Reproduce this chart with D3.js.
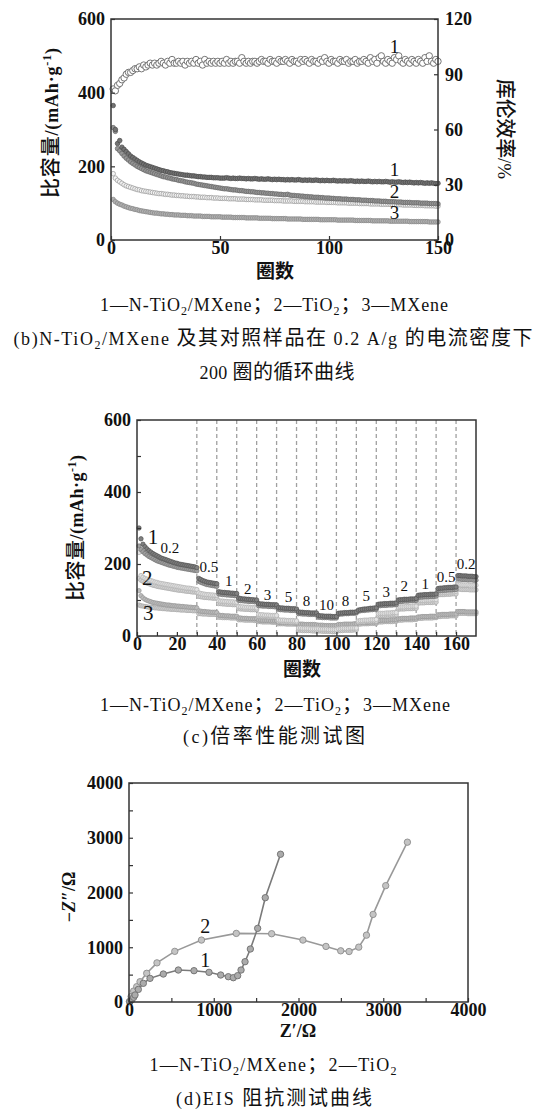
<!DOCTYPE html>
<html>
<head>
<meta charset="utf-8">
<script src="https://cdn.jsdelivr.net/npm/d3@7"></script>
<style>
  body { margin: 0; background: #fff; }
  svg text { font-family: "Liberation Serif", "DejaVu Serif", serif; fill: #111; }
  .cjk { font-family: "Noto Sans CJK SC", sans-serif; }
</style>
</head>
<body>
<svg id="chart" width="542" height="1111"></svg>
<script>
// ---------- (b) cycling at 0.2 A/g ----------
var cyclesB = d3.range(1, 151);
var ceB = [
  82, 81, 84, 85, 87, 88, 90, 91, 91, 92,
  93, 93, 94, 93, 95, 94, 95, 96, 95, 96,
  95, 96, 97, 96, 95, 97, 96, 98, 96, 96,
  97, 96, 97, 95, 97, 96, 97, 96, 98, 96,
  97, 95, 98, 96, 97, 96, 97, 96, 97, 96,
  97, 96, 98, 96, 97, 96, 97, 97, 96, 99,
  97, 96, 97, 96, 97, 97, 96, 97, 98, 97,
  97, 96, 98, 97, 97, 96, 98, 97, 97, 98,
  97, 96, 98, 97, 97, 96, 98, 97, 98, 97,
  96, 98, 97, 97, 96, 98, 97, 99, 97, 96,
  98, 97, 97, 96, 98, 97, 97, 98, 96, 97,
  97, 98, 96, 97, 97, 98, 97, 96, 99, 97,
  98, 96, 99, 100, 97, 96, 98, 97, 96, 99,
  98, 100, 97, 96, 98, 97, 96, 98, 97, 96,
  98, 97, 96, 99, 97, 100, 97, 96, 98, 97
];
var cap1B = [
  365, 300, 262, 270, 252, 246, 240, 234, 228, 224,
  220, 216, 212, 209, 206, 203, 201, 199, 197, 195,
  193, 191, 189, 188, 186, 185, 183, 182, 181, 180,
  179, 178, 177, 176, 176, 175, 174, 174, 173, 172,
  172, 171, 171, 170, 170, 170, 169, 169, 169, 168,
  168, 168, 169, 168, 167, 168, 167, 167, 168, 167,
  167, 166, 167, 166, 166, 167, 166, 165, 166, 165,
  165, 166, 165, 164, 165, 164, 165, 164, 164, 163,
  164, 163, 164, 163, 163, 164, 163, 162, 163, 162,
  163, 162, 162, 163, 162, 161, 162, 161, 162, 161,
  161, 162, 161, 160, 161, 160, 161, 160, 160, 161,
  160, 159, 160, 159, 160, 159, 159, 160, 159, 158,
  159, 158, 159, 158, 158, 159, 158, 157, 158, 157,
  157, 158, 157, 156, 157, 156, 157, 156, 155, 156,
  155, 156, 155, 154, 155, 154, 155, 154, 153, 154
];
var cap2B = [
  305, 295, 248, 242, 235, 228, 222, 217, 212, 208,
  204, 200, 197, 194, 191, 188, 186, 184, 182, 180,
  178, 176, 174, 172, 171, 169, 168, 166, 165, 164,
  162, 161, 160, 158, 157, 156, 155, 154, 152, 151,
  150, 149, 148, 147, 146, 145, 144, 143, 142, 141,
  140, 139, 139, 138, 137, 136, 136, 135, 134, 134,
  133, 132, 132, 131, 131, 130, 129, 129, 128, 128,
  127, 127, 126, 126, 125, 125, 124, 124, 123, 123,
  124, 122, 121, 121, 120, 120, 119, 119, 118, 118,
  117, 117, 116, 116, 116, 115, 115, 114, 114, 114,
  113, 113, 112, 112, 112, 111, 111, 111, 110, 110,
  110, 109, 109, 109, 108, 108, 108, 107, 107, 107,
  106, 106, 106, 105, 105, 105, 104, 104, 104, 104,
  103, 103, 103, 102, 102, 102, 102, 101, 101, 101,
  101, 100, 100, 100, 100, 99, 99, 99, 99, 98
];
var cap2bB = [
  180, 168, 162, 158, 154, 150, 147, 145, 143, 141,
  139, 137, 136, 134, 133, 132, 131, 130, 129, 128,
  127, 126, 126, 125, 124, 124, 123, 122, 122, 121,
  121, 120, 120, 119, 119, 118, 118, 118, 117, 117,
  116, 116, 116, 115, 115, 115, 114, 114, 114, 113,
  113, 113, 113, 112, 112, 112, 112, 111, 111, 111,
  111, 110, 110, 110, 110, 109, 109, 109, 109, 108,
  108, 108, 108, 108, 107, 107, 107, 107, 106, 106,
  106, 106, 106, 105, 105, 105, 105, 105, 104, 104,
  104, 104, 104, 103, 103, 103, 103, 103, 102, 102,
  102, 102, 102, 101, 101, 101, 101, 101, 100, 100,
  100, 100, 100, 99, 99, 99, 99, 99, 98, 98,
  98, 98, 98, 97, 97, 97, 97, 97, 96, 96,
  96, 96, 96, 95, 95, 95, 95, 95, 94, 94,
  94, 94, 94, 93, 93, 93, 93, 93, 92, 92
];
var cap3B = [
  110, 104, 100, 97, 95, 92, 90, 88, 86, 85,
  83, 82, 80, 79, 78, 77, 76, 75, 74, 73,
  73, 72, 71, 71, 70, 70, 69, 69, 68, 68,
  68, 67, 67, 67, 66, 66, 66, 65, 65, 65,
  65, 64, 64, 64, 64, 63, 63, 63, 63, 63,
  62, 62, 62, 62, 62, 61, 61, 61, 61, 61,
  61, 60, 60, 60, 60, 60, 60, 59, 59, 59,
  59, 59, 59, 58, 58, 58, 58, 58, 58, 58,
  57, 57, 57, 57, 57, 57, 57, 56, 56, 56,
  56, 56, 56, 56, 56, 55, 55, 55, 55, 55,
  55, 55, 55, 54, 54, 54, 54, 54, 54, 54,
  54, 53, 53, 53, 53, 53, 53, 53, 53, 52,
  52, 52, 52, 52, 52, 52, 52, 51, 51, 51,
  51, 51, 51, 51, 51, 51, 50, 50, 50, 50,
  50, 50, 50, 50, 50, 49, 49, 49, 49, 49
];

// ---------- (c) rate test ----------
var cyclesC = d3.range(1, 171);
var rateBounds = [30, 40, 50, 60, 70, 80, 90, 100, 110, 120, 130, 140, 150, 160];
var rateText = ["0.2", "0.5", "1", "2", "3", "5", "8", "10", "8", "5", "3", "2", "1", "0.5", "0.2"];
var rateAtCycle = [16.5, 36, 46, 55.5, 65.5, 76, 85, 95, 104.5, 115, 125, 134, 144.5, 155, 165];
var rateAtCap = [244, 193, 153, 132, 114, 109, 98, 86, 98, 111, 123, 139, 146, 165, 202];
var s1aC = [
  300, 270, 255, 248, 242, 237, 233, 229, 226, 223, 220, 217, 215, 213, 211,
  209, 207, 205, 203, 202, 200, 199, 198, 197, 196, 195, 194, 193, 192, 190,
  160, 157, 154, 152, 150, 149, 148, 147, 146, 145,
  123, 122, 121, 121, 120, 120, 119, 119, 118, 118,
  105, 104, 103, 103, 102, 102, 101, 101, 100, 100,
  90, 89, 89, 88, 88, 88, 87, 87, 87, 86,
  79, 78, 78, 77, 77, 77, 76, 76, 76, 75,
  67, 66, 66, 65, 65, 65, 64, 64, 64, 64,
  57, 56, 56, 55, 55, 55, 55, 54, 54, 54,
  63, 64, 64, 65, 65, 65, 66, 66, 66, 67,
  72, 73, 74, 75, 75, 76, 77, 77, 78, 78,
  88, 89, 89, 90, 90, 90, 91, 91, 91, 92,
  100, 101, 101, 102, 102, 102, 103, 103, 103, 104,
  113, 114, 114, 115, 115, 115, 116, 116, 116, 117,
  132, 133, 133, 134, 134, 135, 135, 135, 136, 136,
  168, 168, 167, 167, 167, 166, 166, 166, 165, 165
];
var s1bC = [
  250, 240, 234, 229, 225, 221, 218, 215, 212, 209, 207, 205, 203, 201, 199,
  197, 196, 194, 193, 191, 190, 189, 188, 187, 186, 185, 184, 183, 182, 181,
  152, 149, 147, 145, 143, 142, 141, 140, 139, 138,
  117, 116, 115, 115, 114, 114, 113, 113, 112, 112,
  99, 98, 98, 97, 97, 96, 96, 96, 95, 95,
  84, 84, 83, 83, 83, 82, 82, 82, 81, 81,
  74, 73, 73, 72, 72, 72, 71, 71, 71, 71,
  62, 62, 61, 61, 61, 60, 60, 60, 60, 59,
  52, 52, 51, 51, 51, 51, 50, 50, 50, 50,
  60, 61, 61, 62, 62, 62, 63, 63, 63, 64,
  69, 70, 71, 71, 72, 72, 73, 73, 74, 74,
  84, 84, 85, 85, 85, 86, 86, 86, 87, 87,
  95, 96, 96, 97, 97, 97, 98, 98, 98, 99,
  107, 108, 108, 109, 109, 109, 110, 110, 110, 111,
  125, 126, 126, 127, 127, 128, 128, 128, 129, 129,
  158, 158, 157, 157, 157, 156, 156, 156, 155, 155
];
var s2aC = [
  232, 168, 163, 160, 158, 156, 154, 152, 150, 149, 147, 146, 145, 144, 143,
  142, 141, 140, 139, 138, 137, 136, 135, 134, 133, 133, 132, 131, 130, 129,
  120, 118, 117, 116, 115, 115, 114, 114, 113, 113,
  98, 97, 97, 96, 96, 95, 95, 95, 94, 94,
  82, 81, 81, 80, 80, 80, 79, 79, 79, 78,
  60, 59, 59, 58, 58, 58, 57, 57, 57, 57,
  45, 44, 44, 44, 43, 43, 43, 43, 42, 42,
  22, 22, 21, 21, 21, 21, 20, 20, 20, 20,
  20, 19, 19, 19, 19, 18, 18, 18, 18, 18,
  20, 20, 21, 21, 21, 21, 22, 22, 22, 22,
  42, 43, 43, 44, 44, 44, 45, 45, 45, 46,
  62, 63, 63, 63, 64, 64, 64, 65, 65, 65,
  80, 81, 81, 81, 82, 82, 82, 83, 83, 83,
  98, 99, 99, 99, 100, 100, 100, 101, 101, 101,
  120, 121, 121, 122, 122, 122, 123, 123, 123, 124,
  143, 143, 142, 142, 142, 142, 141, 141, 141, 141
];
var s2bC = [
  160, 155, 152, 149, 147, 145, 143, 141, 140, 138, 137, 136, 135, 134, 133,
  132, 131, 130, 129, 128, 127, 127, 126, 125, 124, 124, 123, 122, 122, 121,
  110, 109, 108, 107, 107, 106, 106, 105, 105, 105,
  90, 90, 89, 89, 88, 88, 88, 87, 87, 87,
  76, 75, 75, 74, 74, 74, 73, 73, 73, 73,
  55, 55, 54, 54, 54, 53, 53, 53, 53, 52,
  40, 40, 39, 39, 39, 39, 38, 38, 38, 38,
  16, 16, 15, 15, 15, 15, 15, 14, 14, 14,
  14, 14, 13, 13, 13, 13, 13, 12, 12, 12,
  15, 15, 15, 16, 16, 16, 16, 16, 17, 17,
  38, 39, 39, 39, 40, 40, 40, 41, 41, 41,
  56, 57, 57, 57, 58, 58, 58, 58, 59, 59,
  74, 75, 75, 75, 76, 76, 76, 76, 77, 77,
  91, 92, 92, 92, 93, 93, 93, 93, 94, 94,
  114, 115, 115, 115, 116, 116, 116, 117, 117, 117,
  130, 130, 129, 129, 129, 129, 128, 128, 128, 128
];
var s3aC = [
  126, 112, 106, 102, 99, 97, 95, 93, 92, 91, 90, 89, 88, 87, 86,
  86, 85, 84, 84, 83, 83, 82, 82, 81, 81, 80, 80, 79, 79, 78,
  70, 69, 68, 68, 67, 67, 66, 66, 66, 65,
  58, 57, 57, 56, 56, 56, 55, 55, 55, 55,
  50, 50, 49, 49, 49, 48, 48, 48, 48, 48,
  44, 44, 43, 43, 43, 43, 42, 42, 42, 42,
  38, 38, 38, 37, 37, 37, 37, 37, 36, 36,
  33, 33, 33, 32, 32, 32, 32, 32, 32, 31,
  30, 30, 30, 29, 29, 29, 29, 29, 29, 29,
  32, 32, 32, 33, 33, 33, 33, 33, 34, 34,
  37, 37, 38, 38, 38, 38, 39, 39, 39, 39,
  43, 43, 44, 44, 44, 44, 45, 45, 45, 45,
  48, 48, 49, 49, 49, 49, 50, 50, 50, 50,
  53, 53, 54, 54, 54, 54, 55, 55, 55, 55,
  59, 59, 60, 60, 60, 60, 61, 61, 61, 61,
  68, 68, 68, 68, 67, 67, 67, 67, 67, 67
];
var s3bC = [
  86, 84, 83, 82, 81, 80, 80, 79, 78, 78, 77, 77, 76, 76, 75,
  75, 74, 74, 74, 73, 73, 72, 72, 72, 71, 71, 71, 70, 70, 70,
  62, 62, 61, 61, 61, 60, 60, 60, 60, 59,
  52, 52, 51, 51, 51, 51, 50, 50, 50, 50,
  45, 45, 45, 44, 44, 44, 44, 44, 43, 43,
  40, 40, 39, 39, 39, 39, 39, 38, 38, 38,
  34, 34, 34, 34, 33, 33, 33, 33, 33, 33,
  29, 29, 29, 29, 28, 28, 28, 28, 28, 28,
  26, 26, 26, 26, 25, 25, 25, 25, 25, 25,
  28, 28, 29, 29, 29, 29, 29, 30, 30, 30,
  33, 33, 34, 34, 34, 34, 35, 35, 35, 35,
  39, 39, 39, 40, 40, 40, 40, 40, 41, 41,
  44, 44, 44, 45, 45, 45, 45, 45, 46, 46,
  49, 49, 49, 50, 50, 50, 50, 50, 51, 51,
  54, 54, 55, 55, 55, 55, 56, 56, 56, 56,
  63, 63, 63, 63, 63, 62, 62, 62, 62, 62
];

// ---------- (d) EIS ----------
var eis1X = [10, 31, 55, 71, 110, 169, 248, 405, 582, 767, 944, 1082, 1172, 1231, 1282, 1322, 1369, 1432, 1518, 1608, 1788];
var eis1Y = [5, 37, 85, 128, 230, 341, 432, 511, 584, 572, 542, 493, 462, 444, 481, 584, 736, 968, 1345, 1905, 2699];
var eis2X = [5, 25, 55, 91, 130, 209, 330, 540, 855, 1266, 1683, 2052, 2324, 2498, 2597, 2711, 2802, 2880, 3029, 3285];
var eis2Y = [10, 100, 200, 280, 370, 524, 715, 925, 1131, 1253, 1247, 1131, 1015, 935, 922, 1002, 1221, 1600, 2125, 2919];

var svg = d3.select("#chart");
svg.append("rect").attr("width", 542).attr("height", 1111).attr("fill", "#fff");

var tickFont = "bold 18px 'Liberation Serif', serif";

// axis helper: ticks point inward, frame drawn as a rect
function styleAxis(g) {
  g.select(".domain").remove();
  g.selectAll(".tick line").attr("stroke", "#333").attr("stroke-width", 1.2);
  g.selectAll(".tick text").style("font", tickFont).attr("fill", "#111");
}

function frame(x, y) {
  svg.append("rect")
    .attr("x", x.range()[0]).attr("y", y.range()[1])
    .attr("width", x.range()[1] - x.range()[0])
    .attr("height", y.range()[0] - y.range()[1])
    .attr("fill", "none").attr("stroke", "#333").attr("stroke-width", 1.5);
}

function bottomAxis(x, y, major, minor) {
  if (minor) {
    svg.append("g").attr("transform", `translate(0,${y.range()[0]})`)
      .call(d3.axisBottom(x).tickValues(minor).tickSize(-4).tickFormat(""))
      .call(styleAxis);
  }
  svg.append("g").attr("transform", `translate(0,${y.range()[0]})`)
    .call(d3.axisBottom(x).tickValues(major).tickSize(-4).tickPadding(1).tickFormat(d3.format("d")))
    .call(styleAxis);
}

function leftAxis(x, y, major, minor) {
  if (minor) {
    svg.append("g").attr("transform", `translate(${x.range()[0]},0)`)
      .call(d3.axisLeft(y).tickValues(minor).tickSize(-4).tickFormat(""))
      .call(styleAxis);
  }
  svg.append("g").attr("transform", `translate(${x.range()[0]},0)`)
    .call(d3.axisLeft(y).tickValues(major).tickSize(-4).tickPadding(6).tickFormat(d3.format("d")))
    .call(styleAxis);
}

function dots(data, x, y, r, fill, stroke, sw) {
  svg.append("g").selectAll("circle").data(data).join("circle")
    .attr("cx", function(d) { return x(d[0]); })
    .attr("cy", function(d) { return y(d[1]); })
    .attr("r", r)
    .attr("fill", fill).attr("stroke", stroke).attr("stroke-width", sw);
}

function pairs(xs, ys) {
  return xs.map(function(v, i) { return [v, ys[i]]; });
}

// text built from pieces: [text, kind] kind: "cjk" | "sub" | "sup" | "it" | undefined
function richText(x, y, parts, opt) {
  var size = opt.size || 18;
  var t = svg.append("text").attr("x", x).attr("y", y)
    .attr("text-anchor", "middle")
    .style("font-size", size + "px")
    .style("font-weight", opt.bold ? "bold" : "normal");
  if (opt.rotate) t.attr("transform", `rotate(${opt.rotate},${x},${y})`);
  if (opt.len) t.attr("textLength", opt.len).attr("lengthAdjust", "spacing");
  var shift = 0;
  parts.forEach(function(p) {
    var s = t.append("tspan").text(p[0]);
    var want = p[1] === "sub" ? 4 : (p[1] === "sup" ? -7 : 0);
    if (want !== shift) { s.attr("dy", want - shift); shift = want; }
    if (p[1] === "cjk") {
      s.attr("class", "cjk")
        .style("font-size", (opt.cjkSize || size) + "px")
        .style("font-weight", opt.cjkWeight || 400);
    }
    if (p[1] === "sub" || p[1] === "sup") s.style("font-size", Math.round(size * 0.65) + "px");
    if (p[1] === "it") s.style("font-style", "italic");
  });
  return t;
}

function label(x, y, txt, size) {
  svg.append("text").attr("x", x).attr("y", y)
    .attr("text-anchor", "middle").attr("dy", "0.35em")
    .style("font-size", size + "px").text(txt);
}

function cap(x, y, parts, len) {
  return richText(x, y, parts, {size: 18, cjkSize: 20, len: len});
}

// ================= (b) =================
var xB = d3.scaleLinear().domain([0, 150]).range([111, 438]);
var yB = d3.scaleLinear().domain([0, 600]).range([240, 19]);
var yB2 = d3.scaleLinear().domain([0, 120]).range([240, 19]);

dots(pairs(cyclesB, cap3B), xB, yB, 2.3, "#b0b0b0", "#858585", 0.7);
dots(pairs(cyclesB, cap2bB), xB, yB, 2.3, "#f4f4f4", "#a0a0a0", 0.8);
dots(pairs(cyclesB, cap2B), xB, yB, 2.3, "#959595", "#666", 0.7);
dots(pairs(cyclesB, cap1B), xB, yB, 2.3, "#737373", "#4a4a4a", 0.7);
dots(pairs(cyclesB, ceB), xB, yB2, 3.2, "#fff", "#666", 0.9);

bottomAxis(xB, yB, [0, 50, 100, 150]);
leftAxis(xB, yB, [0, 200, 400, 600]);
svg.append("g").attr("transform", `translate(${xB.range()[1]},0)`)
  .call(d3.axisRight(yB2).tickValues([0, 30, 60, 90, 120]).tickSize(-4).tickPadding(7).tickFormat(d3.format("d")))
  .call(styleAxis);
frame(xB, yB);

label(xB(130), yB(525), "1", 19);
label(xB(130), yB(193), "1", 19);
label(xB(130), yB(133), "2", 19);
label(xB(130), yB(76), "3", 19);

richText(58, 123, [["比容量", "cjk"], ["/(mAh·g"], ["-1", "sup"], [")"]],
  {rotate: -90, size: 18, bold: true, cjkSize: 20, cjkWeight: 500, len: 150});
richText(498, 129, [["库伦效率", "cjk"], ["/%"]], {rotate: 90, size: 19, cjkSize: 20, cjkWeight: 500, len: 100});
richText(275, 278, [["圈数", "cjk"]], {size: 19, cjkSize: 19, cjkWeight: 700});

cap(274, 311, [["1—N-TiO"], ["2", "sub"], ["/MXene"], ["；", "cjk"], ["2—TiO"], ["2", "sub"], ["；", "cjk"], ["3—MXene"]], 348);
cap(273, 345, [["(b)N-TiO"], ["2", "sub"], ["/MXene "], ["及其对照样品在", "cjk"], [" 0.2 A/g "], ["的电流密度下", "cjk"]], 519);
cap(277, 379, [["200 "], ["圈的循环曲线", "cjk"]], 155);

// ================= (c) =================
var xC = d3.scaleLinear().domain([0, 170]).range([137, 476]);
var yC = d3.scaleLinear().domain([0, 600]).range([636, 420]);

svg.append("g").selectAll("line").data(rateBounds).join("line")
  .attr("x1", function(d) { return xC(d); }).attr("x2", function(d) { return xC(d); })
  .attr("y1", yC(600)).attr("y2", yC(0))
  .attr("stroke", "#a0a0a0").attr("stroke-width", 1.3).attr("stroke-dasharray", "4,3");

dots(pairs(cyclesC, s3bC), xC, yC, 2.2, "#d0d0d0", "#a5a5a5", 0.7);
dots(pairs(cyclesC, s3aC), xC, yC, 2.2, "#bcbcbc", "#959595", 0.7);
dots(pairs(cyclesC, s2bC), xC, yC, 2.2, "#d6d6d6", "#a8a8a8", 0.7);
dots(pairs(cyclesC, s2aC), xC, yC, 2.2, "#e2e2e2", "#b0b0b0", 0.7);
dots(pairs(cyclesC, s1bC), xC, yC, 2.2, "#a0a0a0", "#737373", 0.7);
dots(pairs(cyclesC, s1aC), xC, yC, 2.2, "#808080", "#525252", 0.7);

bottomAxis(xC, yC, d3.range(0, 161, 20), d3.range(10, 170, 20));
leftAxis(xC, yC, [0, 200, 400, 600], [100, 300, 500]);
frame(xC, yC);

rateText.forEach(function(t, i) {
  label(xC(rateAtCycle[i]), yC(rateAtCap[i]), t, 15);
});
label(xC(8), yC(276), "1", 21);
label(xC(5.2), yC(163), "2", 21);
label(xC(5.7), yC(65), "3", 21);

richText(83, 528, [["比容量", "cjk"], ["/(mAh·g"], ["-1", "sup"], [")"]],
  {rotate: -90, size: 18, bold: true, cjkSize: 20, cjkWeight: 500, len: 146});
richText(302, 676, [["圈数", "cjk"]], {size: 19, cjkSize: 19, cjkWeight: 700});
cap(275, 711, [["1—N-TiO"], ["2", "sub"], ["/MXene"], ["；", "cjk"], ["2—TiO"], ["2", "sub"], ["；", "cjk"], ["3—MXene"]], 350);
cap(274, 743, [["(c)"], ["倍率性能测试图", "cjk"]], 182);

// ================= (d) =================
var xD = d3.scaleLinear().domain([0, 4000]).range([129, 468]);
var yD = d3.scaleLinear().domain([0, 4000]).range([1002, 783]);

var lineD = d3.line()
  .x(function(d) { return xD(d[0]); })
  .y(function(d) { return yD(d[1]); });

svg.append("path").datum(pairs(eis2X, eis2Y))
  .attr("fill", "none").attr("stroke", "#999").attr("stroke-width", 1.6).attr("d", lineD);
dots(pairs(eis2X, eis2Y), xD, yD, 3.2, "#c4c4c4", "#8c8c8c", 0.9);
svg.append("path").datum(pairs(eis1X, eis1Y))
  .attr("fill", "none").attr("stroke", "#7a7a7a").attr("stroke-width", 1.6).attr("d", lineD);
dots(pairs(eis1X, eis1Y), xD, yD, 3.2, "#ababab", "#6e6e6e", 0.9);

bottomAxis(xD, yD, [0, 1000, 2000, 3000, 4000], [500, 1500, 2500, 3500]);
leftAxis(xD, yD, [0, 1000, 2000, 3000, 4000], [500, 1500, 2500, 3500]);
frame(xD, yD);

label(xD(900), yD(1380), "2", 20);
label(xD(900), yD(760), "1", 20);

richText(75, 897, [["−"], ["Z", "it"], ["″/Ω"]], {rotate: -90, size: 18, bold: true});
richText(298, 1037, [["Z′/Ω"]], {size: 18, bold: true});
cap(273, 1071, [["1—N-TiO"], ["2", "sub"], ["/MXene"], ["；", "cjk"], ["2—TiO"], ["2", "sub"]], 247);
cap(274, 1105, [["(d)EIS "], ["阻抗测试曲线", "cjk"]], 196);
</script>
</body>
</html>
